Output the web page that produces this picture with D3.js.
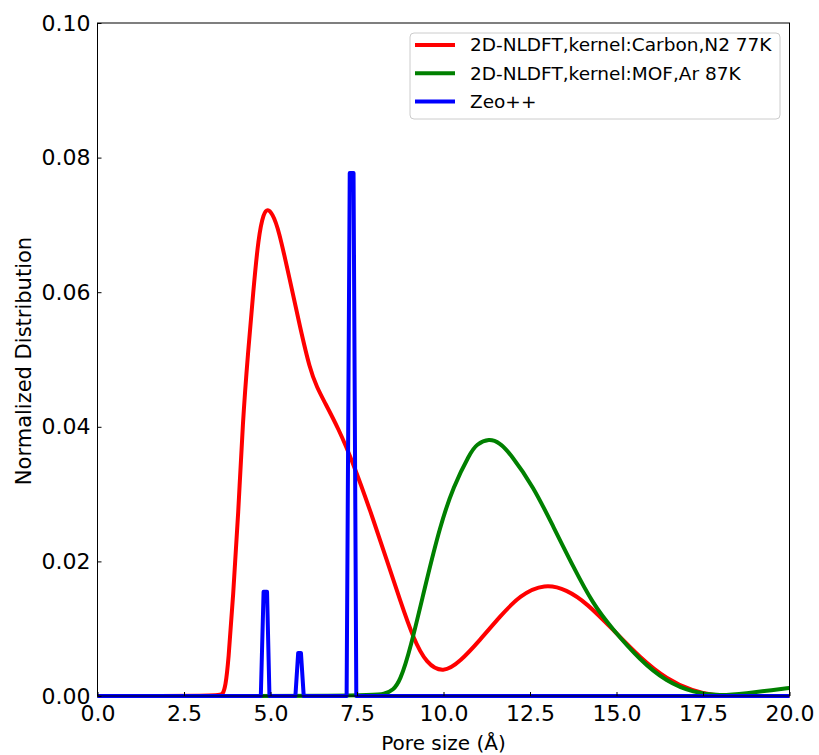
<!DOCTYPE html>
<html>
<head>
<meta charset="utf-8">
<script src="https://cdn.jsdelivr.net/npm/d3@7"></script>
<style>
    body { margin: 0; background: #fff; }
    svg { display: block; font-family: "DejaVu Sans", sans-serif; }
</style>
</head>
<body>
<svg id="chart"></svg>
<script>
// pore size (Å) / normalized distribution
const carbonX = [0, 3.52, 3.62, 3.7, 3.78, 3.92, 4.07, 4.2, 4.35, 4.5, 4.65, 4.8, 4.92, 5.05, 5.23, 5.56, 5.85, 6.14, 6.35, 6.53, 6.96, 7.39, 7.88, 8.36, 8.74, 9.13, 9.51, 9.99, 10.48, 11.05, 11.63, 12.21, 12.93, 13.56, 14.14, 14.91, 15.68, 16.45, 17.22, 17.8, 18.3, 20]
const carbonY = [0, 0, 0.0002, 0.0015, 0.0049, 0.0148, 0.0271, 0.0410, 0.0510, 0.0600, 0.0682, 0.0718, 0.0724, 0.0717, 0.0695, 0.0618, 0.0549, 0.0485, 0.0458, 0.0440, 0.0398, 0.0346, 0.0276, 0.0202, 0.0143, 0.0085, 0.0048, 0.0034, 0.0051, 0.0083, 0.0118, 0.0150, 0.0167, 0.0158, 0.0138, 0.0098, 0.0057, 0.0025, 0.0007, 0.0001, 0, 0]

const mofX = [0, 7.9, 8.3, 8.55, 8.74, 9.03, 9.51, 9.9, 10.28, 10.77, 10.95, 11.32, 11.63, 11.92, 12.6, 13.17, 13.75, 14.33, 14.86, 15.68, 16.45, 17.22, 17.99, 18.76, 19.53, 20]
const mofY = [0, 0, 0.0003, 0.0009, 0.0022, 0.0067, 0.0172, 0.0252, 0.0311, 0.0361, 0.0374, 0.0383, 0.0376, 0.0361, 0.0311, 0.0252, 0.0192, 0.0136, 0.0101, 0.0053, 0.0021, 0.0005, 0, 0.0004, 0.0009, 0.0012]

const zeoX = [0, 4.72, 4.8, 4.9, 4.97, 5.72, 5.8, 5.88, 5.96, 7.2, 7.29, 7.4, 7.48, 20]
const zeoY = [0, 0, 0.0155, 0.0155, 0, 0, 0.0064, 0.0064, 0, 0, 0.0777, 0.0777, 0, 0]

const seriesNames = ["2D-NLDFT,kernel:Carbon,N2 77K", "2D-NLDFT,kernel:MOF,Ar 87K", "Zeo++"]
const seriesColors = ["#ff0000", "#008000", "#0000ff"]
const xTicks = [0, 2.5, 5, 7.5, 10, 12.5, 15, 17.5, 20]
const yTicks = [0, 0.02, 0.04, 0.06, 0.08, 0.10]

function zip(xs, ys) {
    return xs.map((x, i) => ({ x: x, y: ys[i] }))
}

function getConfig() {
    let width = 819;
    let height = 755;
    let margin = { top: 23, left: 97.5, right: 29.5, bottom: 59 }
    let bodyWidth = width - margin.left - margin.right
    let bodyHeight = height - margin.top - margin.bottom
    let container = d3.select("#chart")
        .attr("width", width)
        .attr("height", height)
    return { width, height, margin, bodyWidth, bodyHeight, container }
}

function getScales(config) {
    let xScale = d3.scaleLinear()
        .domain([0, 20])
        .range([0, config.bodyWidth])
    let yScale = d3.scaleLinear()
        .domain([0, 0.10])
        .range([config.bodyHeight, 0])
    return { xScale, yScale }
}

function drawLines(series, scales, config) {
    let { xScale, yScale } = scales
    let body = config.container.append("g")
        .attr("transform", `translate(${config.margin.left},${config.margin.top})`)

    series.forEach(s => {
        let line = d3.line()
            .x(d => xScale(d.x))
            .y(d => yScale(d.y))
            .curve(s.smooth ? d3.curveBasis : d3.curveLinear)
        body.append("path")
            .datum(s.points)
            .attr("d", line)
            .attr("fill", "none")
            .attr("stroke", s.color)
            .attr("stroke-width", 4)
            .attr("stroke-linejoin", "round")
            .attr("stroke-linecap", "butt")
    })
}

function drawAxes(scales, config) {
    let { xScale, yScale } = scales
    let { container, margin, bodyWidth, bodyHeight } = config

    let axisX = d3.axisBottom(xScale)
        .tickValues(xTicks)
        .tickFormat(d3.format(".1f"))
        .tickSizeInner(-4)
        .tickSizeOuter(0)
        .tickPadding(9)
    let gx = container.append("g")
        .attr("transform", `translate(${margin.left},${margin.top + bodyHeight})`)
        .call(axisX)

    let axisY = d3.axisLeft(yScale)
        .tickValues(yTicks)
        .tickFormat(d3.format(".2f"))
        .tickSizeInner(-4)
        .tickSizeOuter(0)
        .tickPadding(7)
    let gy = container.append("g")
        .attr("transform", `translate(${margin.left},${margin.top})`)
        .call(axisY)

    for (let g of [gx, gy]) {
        g.select(".domain").remove()
        g.selectAll("text")
            .attr("font-size", 22)
            .attr("font-family", "DejaVu Sans")
            .attr("fill", "#000")
        g.selectAll("line").attr("stroke", "#000")
    }

    // frame
    container.append("rect")
        .attr("x", margin.left)
        .attr("y", margin.top)
        .attr("width", bodyWidth)
        .attr("height", bodyHeight)
        .attr("fill", "none")
        .attr("stroke", "#000")
        .attr("stroke-width", 1)

    container.append("text")
        .attr("x", margin.left + bodyWidth / 2)
        .attr("y", 750)
        .attr("text-anchor", "middle")
        .attr("font-size", 20)
        .text("Pore size (Å)")

    container.append("text")
        .attr("transform", `translate(31,361) rotate(-90)`)
        .attr("text-anchor", "middle")
        .attr("font-size", 21)
        .text("Normalized Distribution")
}

function drawLegend(config) {
    let legend = config.container.append("g")
        .attr("transform", "translate(410,33)")

    legend.append("rect")
        .attr("width", 370)
        .attr("height", 86)
        .attr("rx", 4)
        .attr("fill", "#fff")
        .attr("fill-opacity", 0.8)
        .attr("stroke", "#cccccc")

    let items = legend.selectAll(".item")
        .data(seriesNames)
        .enter().append("g")
        .attr("transform", (d, i) => `translate(0,${12 + i * 28.3})`)

    items.append("line")
        .attr("x1", 5)
        .attr("x2", 45)
        .attr("stroke", (d, i) => seriesColors[i])
        .attr("stroke-width", 4)

    items.append("text")
        .attr("x", 60)
        .attr("dy", "0.35em")
        .attr("font-size", 18.5)
        .text(d => d)
}

function showChart() {
    let config = getConfig();
    let scales = getScales(config);
    let series = [
        { points: zip(carbonX, carbonY), color: seriesColors[0], smooth: true },
        { points: zip(mofX, mofY), color: seriesColors[1], smooth: true },
        { points: zip(zeoX, zeoY), color: seriesColors[2], smooth: false }
    ]
    drawLines(series, scales, config)
    drawAxes(scales, config)
    drawLegend(config)
}

showChart();
</script>
</body>
</html>
